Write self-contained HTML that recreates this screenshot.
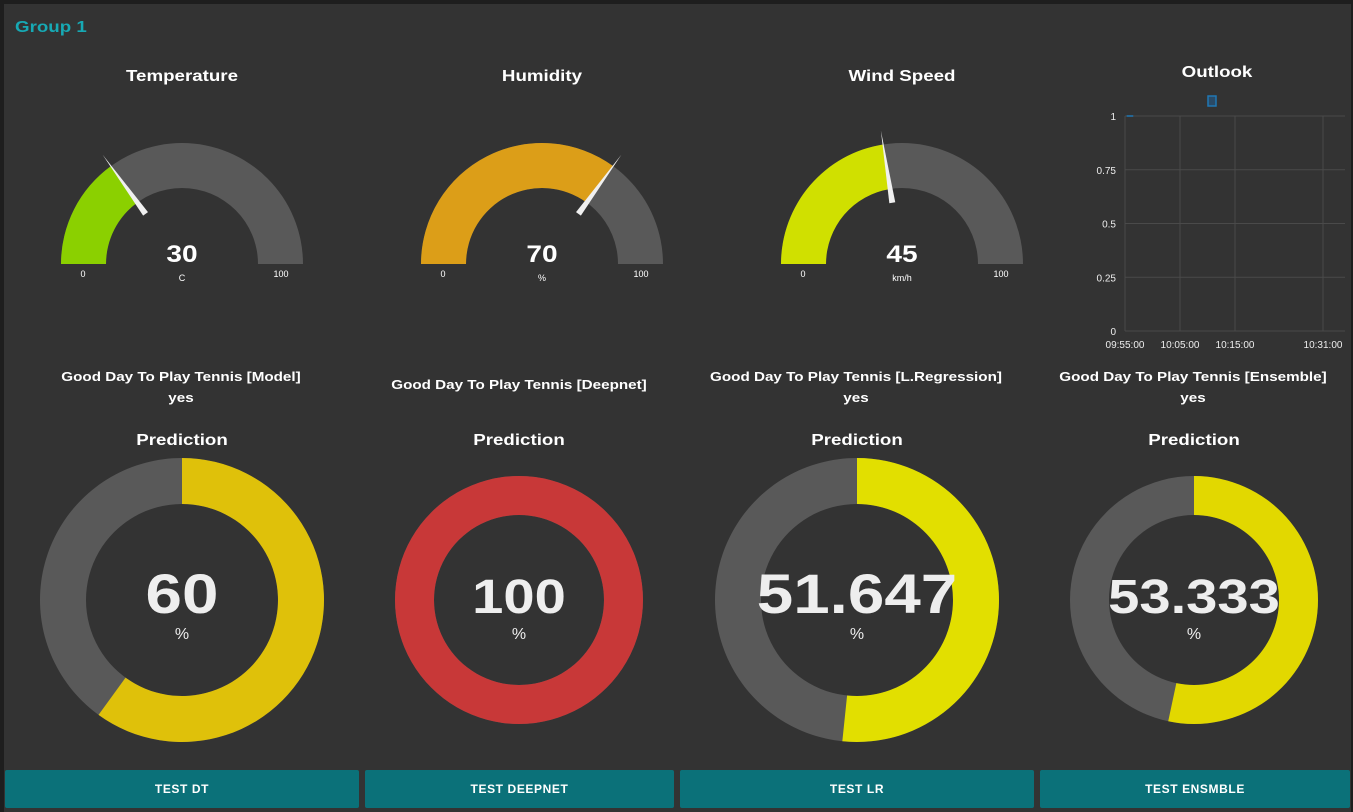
<!DOCTYPE html>
<html><head><meta charset="utf-8">
<style>
html,body{margin:0;padding:0;background:#1e1e1e;}
body{width:1353px;height:812px;overflow:hidden;font-family:"Liberation Sans",sans-serif;}
#panel{position:absolute;left:4px;top:4px;width:1347px;height:808px;background:#333333;}
.btn{position:absolute;top:770px;height:38px;background:#0b7179;color:#fff;font-weight:bold;font-size:12px;letter-spacing:0.6px;text-align:center;line-height:38px;border-radius:2px;}
</style></head><body>
<div id="panel"></div>
<svg width="1353" height="812" style="position:absolute;left:0;top:0" font-family="Liberation Sans, sans-serif" id="svg">
<text x="15" y="32" fill="#17a9b4" font-size="16" font-weight="bold">Group 1</text>
<g id="gauges"></g>
<g id="outlook"></g>
<g id="donuts"></g>
<g fill="#fff" font-size="13" font-weight="bold" text-anchor="middle">
<text x="181" y="381">Good Day To Play Tennis [Model]</text>
<text x="181" y="402">yes</text>
<text x="519" y="389">Good Day To Play Tennis [Deepnet]</text>
<text x="856" y="381">Good Day To Play Tennis [L.Regression]</text>
<text x="856" y="402">yes</text>
<text x="1193" y="381">Good Day To Play Tennis [Ensemble]</text>
<text x="1193" y="402">yes</text>
</g>
</svg>
<div class="btn" style="left:5px;width:354px">TEST DT</div>
<div class="btn" style="left:365px;width:309px">TEST DEEPNET</div>
<div class="btn" style="left:680px;width:354px">TEST LR</div>
<div class="btn" style="left:1040px;width:310px">TEST ENSMBLE</div>
<script>
const gaugeTitles=["Temperature","Humidity","Wind Speed"];
const gaugeValues=[30,70,45];
const gaugeUnits=["C","%","km/h"];
const gaugeColors=["#8bd000","#dc9e18","#d0e000"];
const donutValues=[60,100,51.647,53.333];
const donutLabels=["60","100","51.647","53.333"];
const donutColors=["#dfc10a","#c83838","#e2df00","#e2d800"];
const outlookY=[1,1];
const outlookT=[0,1.2];
const outlookTicks=["09:55:00","10:05:00","10:15:00","10:31:00"];
const outlookTickMin=[0,10,20,36];
const outlookYTicks=[0,0.25,0.5,0.75,1];

const NS="http://www.w3.org/2000/svg";
function mk(p,tag,attrs,txt){const e=document.createElementNS(NS,tag);for(const k in attrs)e.setAttribute(k,attrs[k]);if(txt!==undefined)e.textContent=txt;p.appendChild(e);return e;}
function arcPath(cx,cy,ro,ri,a0,a1){
 const p=(r,a)=>[cx+r*Math.cos(a),cy+r*Math.sin(a)];
 const large=Math.abs(a1-a0)>Math.PI?1:0;
 const [x0,y0]=p(ro,a0),[x1,y1]=p(ro,a1),[x2,y2]=p(ri,a1),[x3,y3]=p(ri,a0);
 return `M${x0},${y0}A${ro},${ro} 0 ${large} 1 ${x1},${y1}L${x2},${y2}A${ri},${ri} 0 ${large} 0 ${x3},${y3}Z`;
}
const g=document.getElementById('gauges');
const gcx=[182,542,902];
gaugeValues.forEach((v,i)=>{
 const cx=gcx[i],cy=264,ro=121,ri=76;
 const grp=mk(g,'g',{});
 
 
 mk(grp,'text',{x:cx,y:81,fill:'#fff','font-size':16,'font-weight':'bold','text-anchor':'middle'},gaugeTitles[i]);
 mk(grp,'path',{d:arcPath(cx,cy,ro,ri,Math.PI,2*Math.PI),fill:'#595959'});
 const av=Math.PI+Math.PI*v/100;
 mk(grp,'path',{d:arcPath(cx,cy,ro,ri,Math.PI,av),fill:gaugeColors[i]});
 const nx=cx+135*Math.cos(av),ny=cy+135*Math.sin(av),bx=cx+62*Math.cos(av),by=cy+62*Math.sin(av);
 const px=-Math.sin(av)*3,py=Math.cos(av)*3;
 mk(grp,'path',{d:`M${nx},${ny}L${bx+px},${by+py}L${bx-px},${by-py}Z`,fill:'#f0f0f0'});
 mk(grp,'text',{x:cx,y:262,fill:'#fff','font-size':24,'font-weight':'bold','text-anchor':'middle'},String(v));
 mk(grp,'text',{x:cx,y:281,fill:'#fff','font-size':9,'text-anchor':'middle'},gaugeUnits[i]);
 mk(grp,'text',{x:cx-99,y:277,fill:'#fff','font-size':9,'text-anchor':'middle'},'0');
 mk(grp,'text',{x:cx+99,y:277,fill:'#fff','font-size':9,'text-anchor':'middle'},'100');
});
// outlook chart
const o=document.getElementById('outlook');
const X0=1125,X1=1345,Y0=331,Y1=116;
const xs=m=>X0+m*5.5, ys=v=>Y0-(Y0-Y1)*v;
mk(o,'text',{x:1217,y:77,fill:'#fff','font-size':16,'font-weight':'bold','text-anchor':'middle'},'Outlook');
outlookYTicks.forEach(t=>{mk(o,'line',{x1:X0,x2:X1,y1:ys(t),y2:ys(t),stroke:'#4a4a4a'});mk(o,'text',{x:1116,y:ys(t)+4,fill:'#eee','font-size':10,'text-anchor':'end'},String(t));});
outlookTickMin.forEach((m,i)=>{mk(o,'line',{x1:xs(m),x2:xs(m),y1:Y1,y2:Y0,stroke:'#4a4a4a'});mk(o,'text',{x:xs(m),y:348,fill:'#eee','font-size':10,'text-anchor':'middle'},outlookTicks[i]);});
mk(o,'rect',{x:1208,y:96,width:8,height:10,fill:'#2a4a66',stroke:'#1f77b4','stroke-width':1.5});
const line=mk(o,'polyline',{points:outlookT.map((t,i)=>xs(t+0.3)+','+ys(outlookY[i])).join(' '),fill:'none',stroke:'#1f77b4','stroke-width':1.5});


// donuts
const d=document.getElementById('donuts');
const dcx=[182,519,857,1194],dro=[142,124,142,124],dri=[96,85,96,85],dfs=[56,48,56,48];
donutValues.forEach((v,i)=>{
 const cx=dcx[i],cy=600;
 const grp=mk(d,'g',{});
 
 
 mk(grp,'text',{x:cx,y:445,fill:'#fff','font-size':16,'font-weight':'bold','text-anchor':'middle'},'Prediction');
 const a0=-Math.PI/2,a1=a0+2*Math.PI*Math.min(v,99.999)/100;
 mk(grp,'path',{d:arcPath(cx,cy,dro[i],dri[i],a0,a0+2*Math.PI-0.0001),fill:'#595959'});
 mk(grp,'path',{d:arcPath(cx,cy,dro[i],dri[i],a0,a1),fill:donutColors[i]});
 mk(grp,'text',{x:cx,y:cy+13,fill:'#eee','font-size':dfs[i],'font-weight':'bold','text-anchor':'middle'},donutLabels[i]);
 mk(grp,'text',{x:cx,y:cy+39,fill:'#eee','font-size':16,'text-anchor':'middle'},'%');
});
// widen bold text to match the reference's wider face
document.querySelectorAll('svg text[font-weight="bold"], svg g[font-weight="bold"] text').forEach(t=>{
 const L=t.getComputedTextLength();
 if(L>0){t.setAttribute('textLength',(L*1.17).toFixed(1));t.setAttribute('lengthAdjust','spacingAndGlyphs');}
});
</script>
</body></html>
